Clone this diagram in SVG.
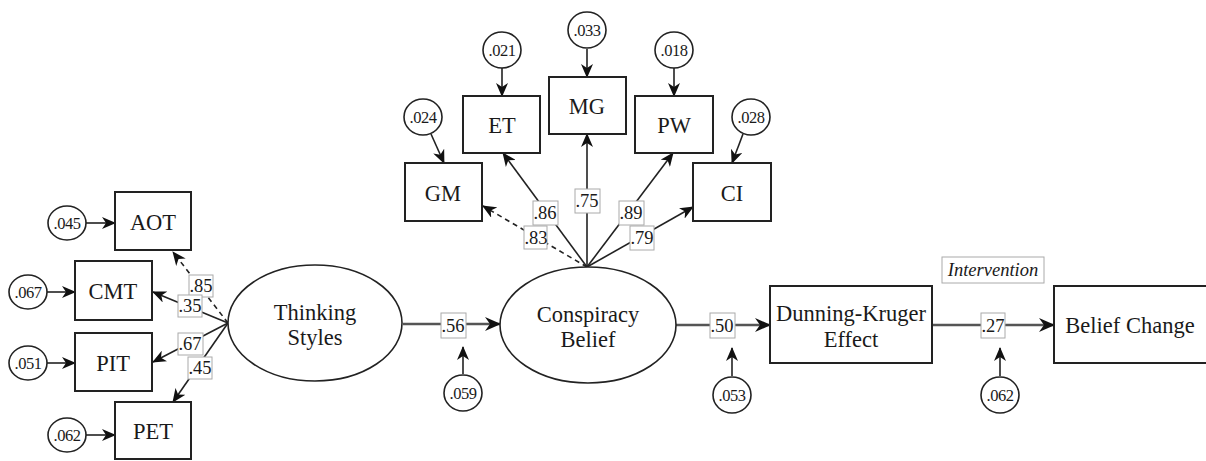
<svg xmlns="http://www.w3.org/2000/svg" width="1206" height="461" viewBox="0 0 1206 461">
<style>
.box{fill:#fff;stroke:#222;stroke-width:2}
.lat{fill:#fff;stroke:#222;stroke-width:1.6}
.err{fill:#fff;stroke:#222;stroke-width:1.6}
text{font-family:"Liberation Serif","DejaVu Serif","Times New Roman",Times,serif;fill:#1a1a1a;text-anchor:middle}
.t{font-size:22.5px}
.et{font-size:16.5px;letter-spacing:-0.5px}
.lb{font-size:18.5px}
.lbox{fill:#fff;stroke:#aaa;stroke-width:1}
.ln{stroke:#222;stroke-width:1.6;fill:none;marker-end:url(#ah)}
.dash{stroke-dasharray:5 4}
.main{stroke:#555;stroke-width:2.4;fill:none;marker-end:url(#ah2)}
</style>
<defs>
<marker id="ah" markerWidth="14" markerHeight="12" refX="13" refY="6" orient="auto" markerUnits="userSpaceOnUse">
<path d="M0,0 L14,6 L0,12 L4,6 z" fill="#111"/>
</marker>
<marker id="ah2" markerWidth="16" markerHeight="14" refX="15" refY="7" orient="auto" markerUnits="userSpaceOnUse">
<path d="M0,0 L16,7 L0,14 L5,7 z" fill="#111"/>
</marker>
</defs>

<g id="connectors">
<line class="ln" x1="86" y1="223" x2="115" y2="223"/>
<line class="ln" x1="47" y1="292" x2="75" y2="292"/>
<line class="ln" x1="47" y1="363" x2="75" y2="363"/>
<line class="ln" x1="86" y1="435" x2="115" y2="435"/>
<line class="ln" x1="431" y1="134" x2="444" y2="163"/>
<line class="ln" x1="502" y1="68" x2="502" y2="96"/>
<line class="ln" x1="587" y1="49" x2="587" y2="77"/>
<line class="ln" x1="674" y1="68" x2="674" y2="96"/>
<line class="ln" x1="743" y1="134" x2="732" y2="163"/>
<line class="ln dash" x1="228" y1="323" x2="173" y2="252"/>
<line class="ln" x1="228" y1="323" x2="153" y2="292"/>
<line class="ln" x1="228" y1="323" x2="153" y2="362"/>
<line class="ln" x1="228" y1="323" x2="173" y2="402"/>
<line class="ln dash" x1="587" y1="267" x2="483" y2="206"/>
<line class="ln" x1="587" y1="267" x2="503" y2="153"/>
<line class="ln" x1="587" y1="267" x2="587" y2="134"/>
<line class="ln" x1="587" y1="267" x2="673" y2="153"/>
<line class="ln" x1="587" y1="267" x2="693" y2="207"/>
<line class="main" x1="403" y1="324" x2="500" y2="324"/>
<line class="main" x1="676" y1="325" x2="770" y2="325"/>
<line class="main" x1="932" y1="325" x2="1054" y2="325"/>
<line class="ln" x1="463" y1="374" x2="463" y2="347"/>
<line class="ln" x1="732" y1="376" x2="732" y2="348"/>
<line class="ln" x1="1000" y1="376" x2="1000" y2="348"/>
<rect class="lbox" x="189" y="275" width="24" height="22"/><text class="lb" x="201" y="292">.85</text>
<rect class="lbox" x="178" y="295" width="24" height="22"/><text class="lb" x="190" y="312">.35</text>
<rect class="lbox" x="178" y="333" width="25" height="22"/><text class="lb" x="190" y="350">.67</text>
<rect class="lbox" x="188" y="357" width="24" height="22"/><text class="lb" x="200" y="374">.45</text>
<rect class="lbox" x="524" y="226" width="23" height="23"/><text class="lb" x="536" y="244">.83</text>
<rect class="lbox" x="533" y="201" width="25" height="24"/><text class="lb" x="545" y="219">.86</text>
<rect class="lbox" x="575" y="189" width="25" height="24"/><text class="lb" x="587" y="207">.75</text>
<rect class="lbox" x="619" y="201" width="25" height="24"/><text class="lb" x="631" y="219">.89</text>
<rect class="lbox" x="630" y="226" width="24" height="24"/><text class="lb" x="642" y="244">.79</text>
<rect class="lbox" x="441" y="313" width="25" height="25"/><text class="lb" x="453" y="332">.56</text>
<rect class="lbox" x="710" y="313" width="25" height="25"/><text class="lb" x="722" y="332">.50</text>
<rect class="lbox" x="981" y="313" width="24" height="25"/><text class="lb" x="993" y="332">.27</text>
<rect class="lbox" x="942" y="257" width="102" height="26"/>
<text class="lb" x="993" y="276" font-style="italic" font-size="19.5">Intervention</text>
</g>

<g id="AOT"><rect class="box" x="115" y="192" width="76" height="58"/><text class="t" x="153" y="229.5">AOT</text></g>
<g id="CMT"><rect class="box" x="75" y="261" width="77" height="59"/><text class="t" x="113" y="299">CMT</text></g>
<g id="PIT"><rect class="box" x="75" y="333" width="77" height="58"/><text class="t" x="113" y="370.5">PIT</text></g>
<g id="PET"><rect class="box" x="115" y="402" width="76" height="57"/><text class="t" x="153" y="439">PET</text></g>
<g id="e_AOT"><ellipse class="err" cx="67" cy="223" rx="19" ry="17"/><text class="et" x="67" y="229">.045</text></g>
<g id="e_CMT"><ellipse class="err" cx="28" cy="292" rx="19" ry="17"/><text class="et" x="28" y="298">.067</text></g>
<g id="e_PIT"><ellipse class="err" cx="28" cy="363" rx="19" ry="17"/><text class="et" x="28" y="369">.051</text></g>
<g id="e_PET"><ellipse class="err" cx="67" cy="435" rx="19" ry="17"/><text class="et" x="67" y="441">.062</text></g>

<g id="ThinkingStyles"><ellipse class="lat" cx="315" cy="323" rx="87" ry="58"/><text class="t" x="315" y="320">Thinking</text><text class="t" x="315" y="345">Styles</text></g>
<g id="ConspiracyBelief"><ellipse class="lat" cx="588" cy="325" rx="88" ry="58"/><text class="t" x="588" y="322">Conspiracy</text><text class="t" x="588" y="347">Belief</text></g>

<g id="GM"><rect class="box" x="405" y="163" width="77" height="58"/><text class="t" x="443" y="200.5">GM</text></g>
<g id="ET"><rect class="box" x="463" y="96" width="77" height="57"/><text class="t" x="502" y="133">ET</text></g>
<g id="MG"><rect class="box" x="549" y="77" width="77" height="57"/><text class="t" x="587" y="114">MG</text></g>
<g id="PW"><rect class="box" x="635" y="96" width="78" height="57"/><text class="t" x="674" y="133">PW</text></g>
<g id="CI"><rect class="box" x="693" y="163" width="78" height="58"/><text class="t" x="732" y="200.5">CI</text></g>
<g id="e_GM"><ellipse class="err" cx="423" cy="117" rx="19" ry="18"/><text class="et" x="423" y="123">.024</text></g>
<g id="e_ET"><ellipse class="err" cx="502" cy="50" rx="19" ry="18"/><text class="et" x="502" y="56">.021</text></g>
<g id="e_MG"><ellipse class="err" cx="587" cy="30" rx="19" ry="18"/><text class="et" x="587" y="36">.033</text></g>
<g id="e_PW"><ellipse class="err" cx="674" cy="50" rx="19" ry="18"/><text class="et" x="674" y="56">.018</text></g>
<g id="e_CI"><ellipse class="err" cx="751" cy="117" rx="19" ry="18"/><text class="et" x="751" y="123">.028</text></g>

<g id="DunningKruger"><rect class="box" x="770" y="286" width="162" height="77"/><text class="t" x="851" y="321">Dunning-Kruger</text><text class="t" x="851" y="347">Effect</text></g>
<g id="BeliefChange"><rect class="box" x="1054" y="286" width="160" height="77"/><text class="t" x="1130" y="333">Belief Change</text></g>
<g id="d_CB"><ellipse class="err" cx="463" cy="393" rx="19" ry="18"/><text class="et" x="463" y="399">.059</text></g>
<g id="d_DK"><ellipse class="err" cx="732" cy="395" rx="19" ry="18"/><text class="et" x="732" y="401">.053</text></g>
<g id="d_BC"><ellipse class="err" cx="1000" cy="395" rx="19" ry="18"/><text class="et" x="1000" y="401">.062</text></g>
</svg>
